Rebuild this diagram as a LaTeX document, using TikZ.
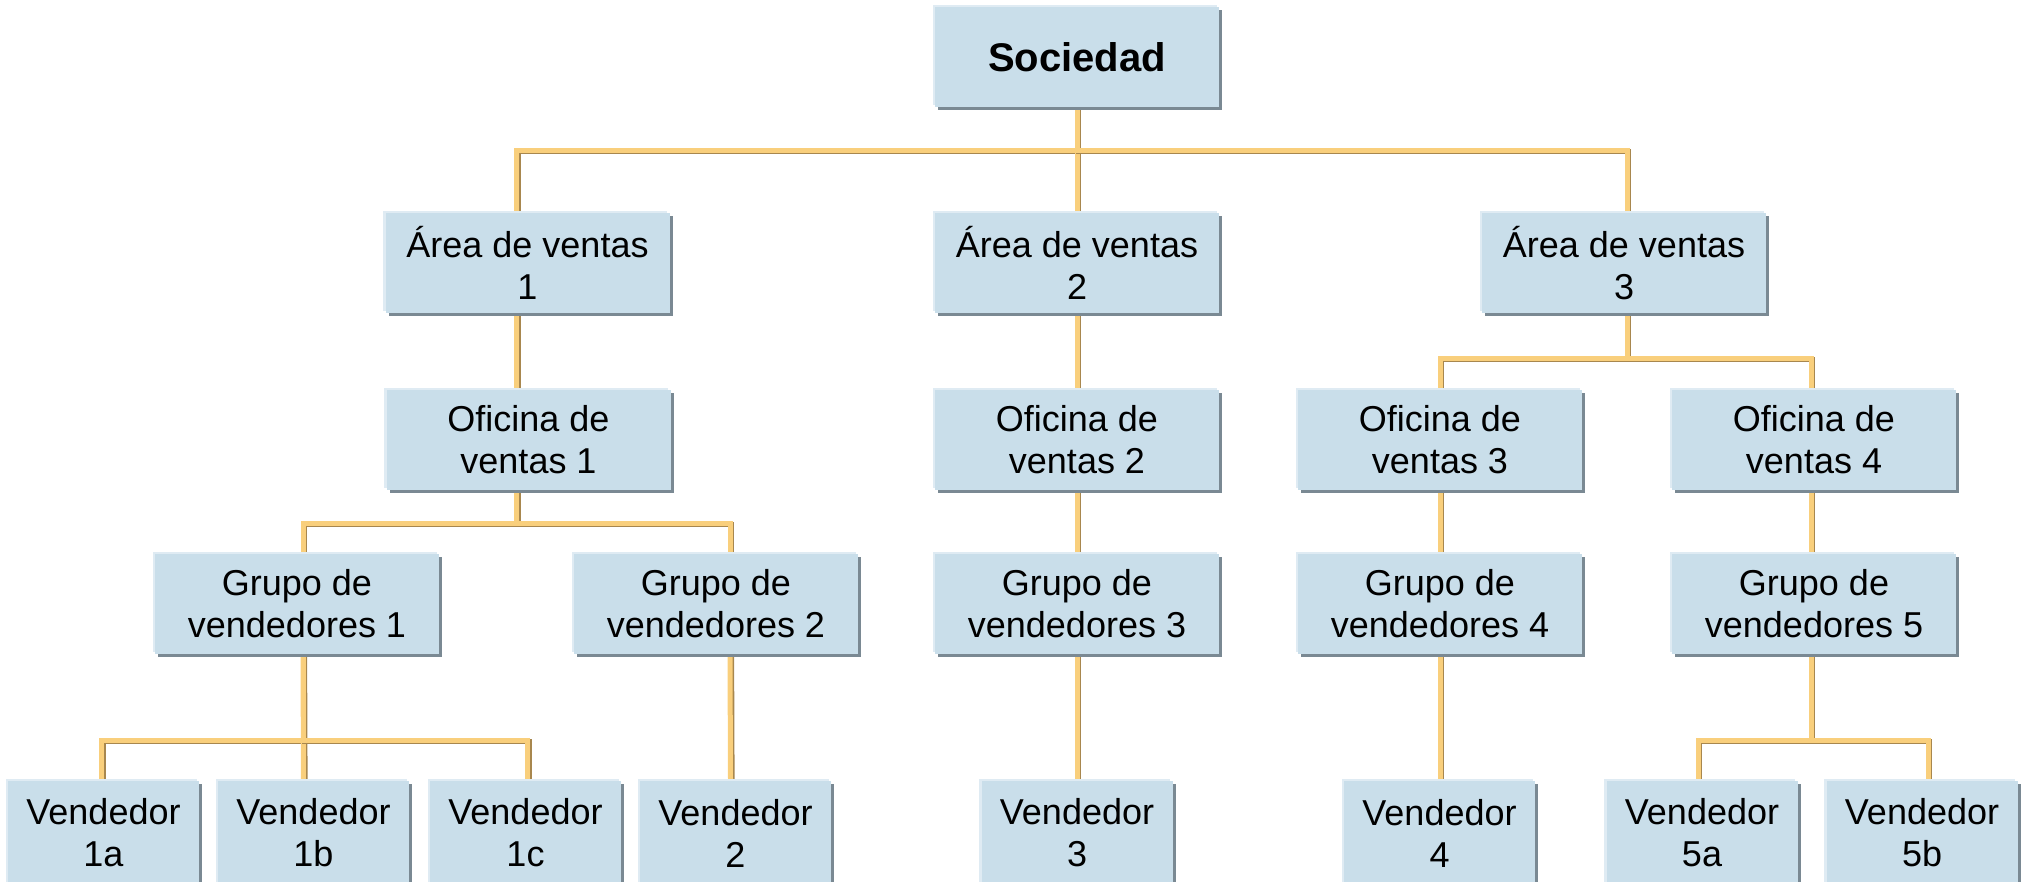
\documentclass[tikz,border=0pt]{standalone}
\usepackage{fontspec}
\setmainfont{Liberation Sans}
\usetikzlibrary{shadows,backgrounds}
\definecolor{boxfill}{HTML}{C9DEEA}
\definecolor{hilite}{HTML}{DFEBF3}
\definecolor{shadowc}{HTML}{7A8993}
\definecolor{connlight}{HTML}{F9CF7C}
\definecolor{conndark}{HTML}{A8874E}
\tikzset{
  orgbox/.style={fill=boxfill, draw=none, inner sep=0pt, align=center,
    minimum width=284pt, minimum height=100pt,
    font=\fontsize{36}{42}\selectfont,
    general shadow={fill=hilite, shadow xshift=-2.5pt, shadow yshift=2.5pt},
    general shadow={fill=shadowc, shadow xshift=3pt, shadow yshift=-3pt}},
  smallbox/.style={orgbox, minimum width=191pt, minimum height=104pt},
  conn/.style={draw=connlight, line width=5pt, line join=miter,
    preaction={draw=conndark, line width=5pt, transform canvas={xshift=1.6pt,yshift=-1.6pt}}}
}
\begin{document}
\begin{tikzpicture}[x=1pt,y=-1pt]
\useasboundingbox (0,0) rectangle (2021,881);
% level 0
\node[orgbox, font=\fontsize{40}{46}\selectfont\bfseries] (soc) at (1077,57) {Sociedad};
% level 1
\node[orgbox] (a1) at (527.5,263) {Área de ventas\\1};
\node[orgbox] (a2) at (1077,263) {Área de ventas\\2};
\node[orgbox] (a3) at (1624,263) {Área de ventas\\3};
% level 2
\node[orgbox] (o1) at (528.5,440) {Oficina de\\ventas 1};
\node[orgbox] (o2) at (1077,440) {Oficina de\\ventas 2};
\node[orgbox] (o3) at (1440,440) {Oficina de\\ventas 3};
\node[orgbox] (o4) at (1814,440) {Oficina de\\ventas 4};
% level 3
\node[orgbox] (g1) at (297,604) {Grupo de\\vendedores 1};
\node[orgbox] (g2) at (716,604) {Grupo de\\vendedores 2};
\node[orgbox] (g3) at (1077,604) {Grupo de\\vendedores 3};
\node[orgbox] (g4) at (1440,604) {Grupo de\\vendedores 4};
\node[orgbox] (g5) at (1814,604) {Grupo de\\vendedores 5};
% level 4
\node[smallbox] (v1a) at (103.5,833) {Vendedor\\1a};
\node[smallbox] (v1b) at (313.5,833) {Vendedor\\1b};
\node[smallbox] (v1c) at (525.5,833) {Vendedor\\1c};
\node[smallbox] (v2) at (735.5,833) {Vendedor\\2};
\node[smallbox] (v3) at (1077,833) {Vendedor\\3};
\node[smallbox] (v4) at (1439.5,833) {Vendedor\\4};
\node[smallbox] (v5a) at (1702,833) {Vendedor\\5a};
\node[smallbox] (v5b) at (1922,833) {Vendedor\\5b};
\begin{scope}[on background layer]
  % Sociedad -> areas
  \draw[conn] (soc.south) -- ++(0,43) -| ([xshift=-11pt]a1.north);
  \draw[conn] (soc.south) -- (a2.north);
  \draw[conn] (soc.south) -- ++(0,43) -| ([xshift=3pt]a3.north);
  % areas -> oficinas
  \draw[conn] ([xshift=-11pt]a1.south) -- ([xshift=-12pt]o1.north);
  \draw[conn] (a2.south) -- (o2.north);
  \draw[conn] ([xshift=3pt]a3.south) -- ++(0,45) -| (o3.north);
  \draw[conn] ([xshift=3pt]a3.south) -- ++(0,45) -| ([xshift=-3pt]o4.north);
  % oficinas -> grupos
  \draw[conn] ([xshift=-12pt]o1.south) -- ++(0,33) -| ([xshift=6pt]g1.north);
  \draw[conn] ([xshift=-12pt]o1.south) -- ++(0,33) -| ([xshift=14pt]g2.north);
  \draw[conn] (o2.south) -- (g3.north);
  \draw[conn] (o3.south) -- (g4.north);
  \draw[conn] ([xshift=-3pt]o4.south) -- ([xshift=-3pt]g5.north);
  % grupos -> vendedores
  \draw[conn] ([xshift=6pt]g1.south) -- ++(0,86) -| ([xshift=-2pt]v1a.north);
  \draw[conn] ([xshift=6pt]g1.south) -- ([xshift=-10pt]v1b.north);
  \draw[conn] ([xshift=6pt]g1.south) -- ++(0,86) -| ([xshift=2pt]v1c.north);
  \draw[conn] ([xshift=14pt]g2.south) -- ([xshift=-5pt]v2.north);
  \draw[conn] (g3.south) -- (v3.north);
  \draw[conn] (g4.south) -- ([xshift=0.5pt]v4.north);
  \draw[conn] ([xshift=-3pt]g5.south) -- ++(0,86) -| ([xshift=-4pt]v5a.north);
  \draw[conn] ([xshift=-3pt]g5.south) -- ++(0,86) -| ([xshift=6pt]v5b.north);
\end{scope}
\end{tikzpicture}
\end{document}
